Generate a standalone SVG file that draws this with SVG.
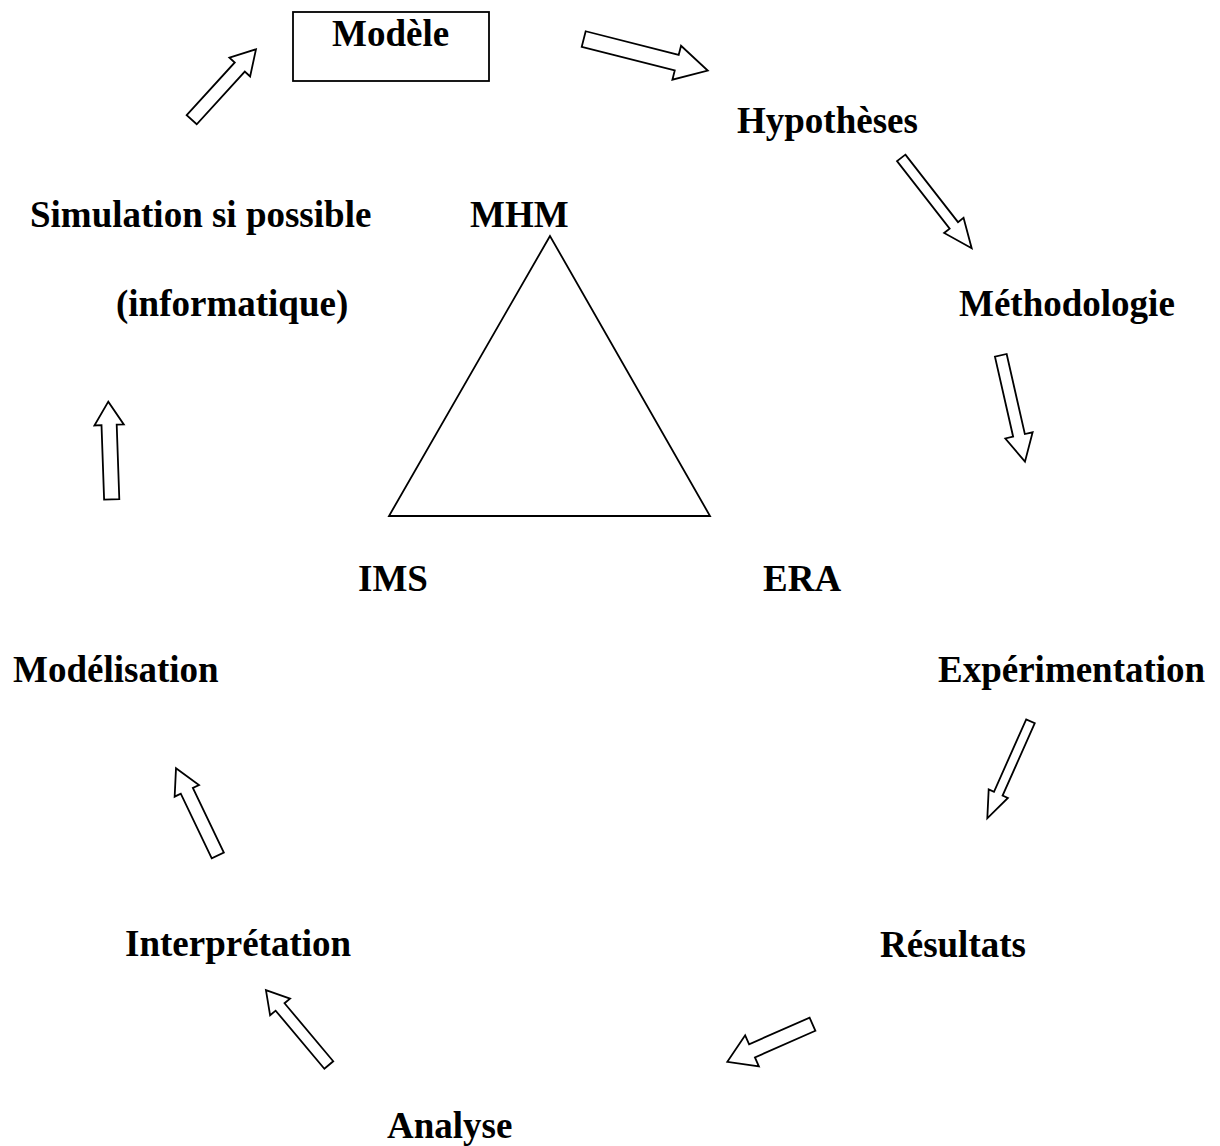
<svg xmlns="http://www.w3.org/2000/svg" width="1220" height="1146" viewBox="0 0 1220 1146">
<style>
.t{font-family:"Liberation Serif","Times New Roman",serif;font-weight:bold;font-size:37px;fill:#000}
.arr{fill:#fff;stroke:#000;stroke-width:1.8;stroke-linejoin:miter}
.shape{fill:none;stroke:#000;stroke-width:1.8}
</style>
<rect width="1220" height="1146" fill="#fff"/>
<g id="modele"><rect class="shape" x="293" y="12" width="196" height="69"/><text class="t" x="332" y="46">Modèle</text></g>
<g id="hypotheses"><text class="t" x="737" y="133">Hypothèses</text></g>
<g id="simulation"><text class="t" x="30" y="227">Simulation si possible</text><text class="t" x="116" y="316">(informatique)</text></g>
<g id="mhm"><text class="t" x="470" y="227">MHM</text></g>
<g id="methodologie"><text class="t" x="959" y="316">Méthodologie</text></g>
<g id="triangle"><polygon class="shape" points="550,236 389,516 710,516"/></g>
<g id="ims"><text class="t" x="358" y="591">IMS</text></g>
<g id="era"><text class="t" x="763" y="591">ERA</text></g>
<g id="modelisation"><text class="t" x="13" y="682">Modélisation</text></g>
<g id="experimentation"><text class="t" x="938" y="682">Expérimentation</text></g>
<g id="interpretation"><text class="t" x="125" y="956">Interprétation</text></g>
<g id="resultats"><text class="t" x="880" y="957">Résultats</text></g>
<g id="analyse"><text class="t" x="387" y="1138">Analyse</text></g>
<g id="connectors">
<polygon class="arr" transform="translate(191.7,119.7) rotate(-47.6)" points="0,-6.8 71.3,-6.8 71.3,-14 95.3,0 71.3,14 71.3,6.8 0,6.8"/>
<polygon class="arr" transform="translate(583.7,39) rotate(14.3)" points="0,-8 96,-8 96,-17.5 128,0 96,17.5 96,8 0,8"/>
<polygon class="arr" transform="translate(901.2,157.9) rotate(52.05)" points="0,-5.3 85.6,-5.3 85.6,-12.3 114.6,0 85.6,12.3 85.6,5.3 0,5.3"/>
<polygon class="arr" transform="translate(1000.8,355.3) rotate(77.2)" points="0,-6 82.1,-6 82.1,-14 109.1,0 82.1,14 82.1,6 0,6"/>
<polygon class="arr" transform="translate(1030.5,721.3) rotate(114)" points="0,-4.7 79.2,-4.7 79.2,-10.5 106.2,0 79.2,10.5 79.2,4.7 0,4.7"/>
<polygon class="arr" transform="translate(812.5,1024.2) rotate(156.2)" points="0,-7.2 66.1,-7.2 66.1,-17 93.1,0 66.1,17 66.1,7.2 0,7.2"/>
<polygon class="arr" transform="translate(328.8,1065) rotate(-130)" points="0,-5.8 75.8,-5.8 75.8,-13 97.8,0 75.8,13 75.8,5.8 0,5.8"/>
<polygon class="arr" transform="translate(217.8,855.5) rotate(-115.6)" points="0,-6.7 71.7,-6.7 71.7,-13.5 96.7,0 71.7,13.5 71.7,6.7 0,6.7"/>
<polygon class="arr" transform="translate(111.7,499.3) rotate(-92)" points="0,-7.6 74.4,-7.6 74.4,-14.7 97.7,0 74.4,14.7 74.4,7.6 0,7.6"/>
</g>
</svg>
